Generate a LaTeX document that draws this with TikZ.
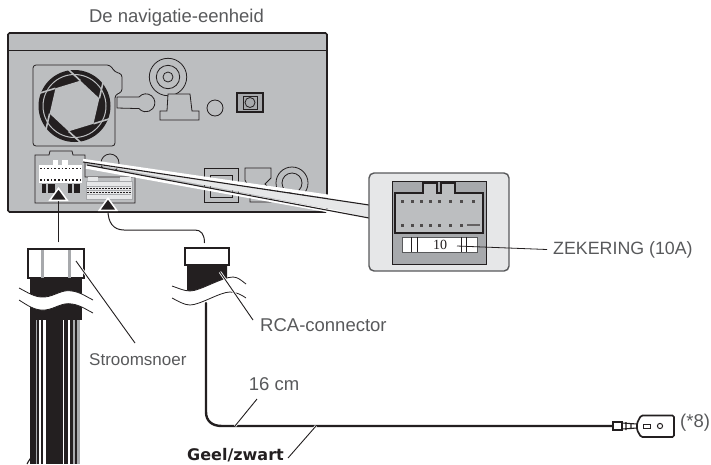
\documentclass[tikz,border=0pt]{standalone}
\usepackage{fontspec}
\setmainfont{Liberation Sans}
\newfontfamily\grasfont{DejaVu Sans}
\usetikzlibrary{positioning,arrows.meta}
\definecolor{boitier}{HTML}{BCBEC0}
\definecolor{clair}{HTML}{E6E7E8}
\definecolor{moyen}{HTML}{A7A9AC}
\definecolor{encre}{HTML}{231F20}
\definecolor{texte}{HTML}{58595B}
\begin{document}
\begin{tikzpicture}[x=1pt,y=-1pt]
  \tikzset{
    etiquette/.style={text=texte,font=\fontsize{18.5}{20}\selectfont,inner sep=0pt},
    trait/.style={draw=encre,line width=0.8pt},
    gros trait/.style={draw=encre,line width=1.6pt},
    repere/.style={draw=encre,line width=0.9pt,preaction={draw=white,line width=2.6pt}},
    fil/.style={draw=encre,line width=2.4pt,line cap=round},
    fleche/.style={draw=encre,line width=1pt,
      -{Triangle[length=14pt,width=20pt,color=white,fill=encre,line width=1.5pt]}},
    prise/.style={draw=encre,fill=white,line width=1.4pt,inner sep=0pt},
  }
  \useasboundingbox (0,0) rectangle (711,464);

  % the unit
  \node[etiquette] (titre) at (176.5,18) {De navigatie-eenheid};
  \node[draw=encre,line width=1.6pt,fill=boitier,rounded corners=1.5pt,inner sep=0pt,
        minimum width=319pt,minimum height=179pt] (unite) at (167.5,122.5) {};
  \draw[gros trait] (8,50.5) -- (327,50.5);

  % fan
  \draw[trait,rounded corners=3pt] (33,65) -- (110,65) -- (115,72) -- (122,74) -- (122,92)
    -- (115,95) -- (115,146) -- (33,146) -- cycle;
  \begin{scope}[shift={(74.5,106)}]
    \fill[encre] (0,0) circle (36);
    \draw[boitier,line width=1pt] (0,0) circle (31.5);
    \fill[boitier] (43:26) -- (103:26) -- (163:26) -- (223:26) -- (283:26) -- (343:26) -- cycle;
    \foreach \a in {43,103,...,343}
      \draw[boitier,line width=1.6pt] (\a:26) -- +(\a-60:17);
  \end{scope}

  % top row
  \draw[trait] (168,77) circle (18.7) circle (11.7) circle (5);
  \draw[trait] (117,97) -- (139,97) arc[start angle=-140,end angle=140,radius=9] -- (117,108) -- cycle;
  \draw[trait,fill=boitier] (167,111) -- (168,94) -- (190,94) -- (192,111) -- (199,111) -- (199,120)
    -- (160,120) -- (160,111) -- cycle;
  \draw[trait] (215,108) circle (8);
  \draw[encre,line width=1.8pt,fill=moyen] (237,93) rectangle (263,112);
  \draw[trait] (250,102.5) circle (5);
  \draw[trait] (243,96) rectangle (257,109);

  % bottom row
  \draw[trait] (110,163) circle (9);
  \draw[trait,fill=boitier] (35,155) -- (49,155) -- (50,151) -- (72,151) -- (73,155) -- (85,155) -- (85,177)
    -- (135,177) -- (135,203) -- (35,203) -- cycle;
  \draw[trait] (204,168) rectangle (238,202);
  \draw[trait] (210,175) rectangle (232,197);
  \draw[trait] (245,168) -- (271,168) -- (271,178) -- (265,184) -- (271,190) -- (271,202) -- (250,202)
    -- (250,190) -- (245,180) -- cycle;
  \draw[trait] (292,183) circle (16) circle (10);

  % connectors on the unit
  \fill[encre] (42,184) rectangle (55,193);
  \fill[encre] (68,184) rectangle (80,193);
  \fill[boitier] (46,184) rectangle (48,193);
  \fill[boitier] (72,184) rectangle (74,193);
  \node[fill=white,inner sep=0pt,minimum width=43pt,minimum height=18pt] (fiche) at (60.5,174) {};
  \fill[white] (53,160) rectangle (58,166);
  \fill[white] (62,160) rectangle (68,166);
  \draw[encre,line width=1.2pt,dash pattern=on 1.6pt off 2pt] (40,168.5) -- (81,168.5);
  \draw[encre,line width=1.2pt,dash pattern=on 1.6pt off 2pt] (40,180) -- (81,180);
  \node[fill=clair,draw=moyen,inner sep=0pt,minimum width=46pt,minimum height=18pt] (fiche rca) at (109,190) {};
  \draw[moyen,line width=0.8pt] (87,186) -- (131,186) (87,190) -- (131,190) (87,194) -- (131,194);
  \draw[encre,line width=0.6pt,dash pattern=on 1.5pt off 1.5pt] (87,188) -- (131,188) (87,192) -- (131,192);
  \fill[clair] (88,177) rectangle (98,181);
  \fill[clair] (120,177) rectangle (131,181);

  % wedge to the close-up
  \fill[clair] (83,162) -- (369,205) -- (369,218) -- (340,211) -- cycle;
  \draw[white,line width=3.4pt] (83,160.5) -- (340,198);
  \draw[white,line width=3.4pt] (86,167) -- (340,212.8);
  \draw[trait,line width=1.1pt] (83,162) -- (369,205);
  \draw[trait,line width=1.1pt] (87,165) -- (369,218);

  % close-up
  \node[draw=texte,line width=1.4pt,fill=clair,rounded corners=5pt,inner sep=0pt,
        minimum width=140pt,minimum height=98pt] (loupe) at (439,222) {};
  \draw[draw=encre,line width=0.7pt,fill=moyen] (392,181) rectangle (486,264);
  \draw[encre,line width=1.5pt,fill=boitier] (395,193) -- (423,193) -- (423,183) -- (437,183) -- (437,193)
    -- (441,193) -- (441,183) -- (455,183) -- (455,193) -- (483,193) -- (483,233) -- (395,233) -- cycle;
  \foreach \x in {402,412,421,430,439,450,461,473}
    \fill[encre!80] (\x-1.5,199.5) rectangle (\x+1.5,202.5);
  \foreach \x in {402,412,421,430,439,450,461}
    \fill[encre!80] (\x-1.5,223.5) rectangle (\x+1.5,226.5);
  \fill[encre!70] (467,223.5) rectangle (480,225.5);
  \node[draw=texte,fill=white,line width=0.6pt,inner sep=0pt,
        minimum width=75pt,minimum height=15pt] (fusible) at (439.5,244.5) {};
  \foreach \x in {411,417,461,466}
    \draw[encre,line width=0.9pt] (\x,237) -- (\x,252);
  \node[inner sep=0pt,text=encre,font=\fontspec{Liberation Serif}\fontsize{14}{16}\selectfont] (dix) at (440,245) {10};
  \node[etiquette,anchor=west,font=\fontsize{17.8}{20}\selectfont] (zekering) at (553,249.5) {ZEKERING (10A)};
  \coordinate (bout fusible) at (457,246);
  \draw[trait] (zekering.west) ++(-6,0) -- (bout fusible);

  % power cable
  \fill[encre] (30,320) rectangle (80,464);
  \foreach \xa/\xb/\c in {35.5/37/moyen,38.5/41/white,43/46/white,63/64.2/white,68/70/white,73/74.5/moyen,77/80/moyen}
    \fill[\c] (\xa,320) rectangle (\xb,464);
  \draw[encre,line width=1.1pt] (27,464) .. controls (29,460) and (31,458) .. (33,454);
  \fill[encre] (30,276) rectangle (82,320);
  \fill[white] (19,288) .. controls (27,292) and (35,298) .. (45,297) .. controls (55,296) and (62,289) .. (72,291)
    .. controls (80,292) and (87,297) .. (93,300) -- (93,313) .. controls (87,310) and (80,305) .. (72,304)
    .. controls (62,302) and (55,309) .. (45,310) .. controls (35,311) and (27,305) .. (19,300) -- cycle;
  \draw[trait] (19,288) .. controls (27,292) and (35,298) .. (45,297) .. controls (55,296) and (62,289) .. (72,291)
    .. controls (80,292) and (87,297) .. (93,300);
  \draw[trait] (19,300) .. controls (27,305) and (35,311) .. (45,310) .. controls (55,309) and (62,302) .. (72,304)
    .. controls (80,305) and (87,310) .. (93,313);
  \node[prise,minimum width=56pt,minimum height=29pt] (stekker) at (56,263.5) {};
  \fill[moyen] (40.5,250) rectangle (43.5,278);
  \fill[moyen] (67.5,250) rectangle (71,278);

  % RCA cable
  \fill[encre] (187,265) -- (227,265) -- (227,284) -- (187,296) -- cycle;
  \fill[white] (172,286) .. controls (178,288) and (184,291) .. (190,291) .. controls (200,291) and (222,277) .. (233,277)
    .. controls (238,277) and (242,281) .. (246,284) -- (246,298) .. controls (242,295) and (236,292) .. (230,292)
    .. controls (220,292) and (200,305) .. (190,305) .. controls (184,305) and (178,301) .. (172,298) -- cycle;
  \draw[trait] (172,286) .. controls (178,288) and (184,291) .. (190,291) .. controls (200,291) and (222,277) .. (233,277)
    .. controls (238,277) and (242,281) .. (246,284);
  \draw[trait] (172,298) .. controls (178,301) and (184,305) .. (190,305) .. controls (200,305) and (220,292) .. (230,292)
    .. controls (236,292) and (242,295) .. (246,298);
  \node[prise,minimum width=44pt,minimum height=17pt] (stekker rca) at (207,256.5) {};

  % lead to the terminal
  \coordinate (manchon) at (613,426);
  \draw[fil] (206,303) -- (206,412) .. controls (206,421) and (212,426) .. (222,426) -- (manchon);
  \draw[trait,line width=1.2pt,fill=white] (613,422) rectangle (622,430);
  \draw[trait,line width=1.1pt] (622,423) -- (637,424) (622,429) -- (637,428) (626,422) -- (626,430) (631,423) -- (631,429);
  \draw[encre,line width=1.7pt,fill=white,rounded corners=1.5pt] (637,423) -- (641,415.5) -- (674,415.5) -- (674,437)
    -- (641,437) -- (637,430) -- cycle;
  \draw[trait,line width=1pt] (643,424) rectangle (650,428);
  \draw[trait,line width=1pt] (660,426) circle (2.6);
  \node[etiquette,anchor=west] (note) at (680,423) {(*8)};

  % arrows
  \coordinate (pointe) at (58.5,187);
  \coordinate (pointe rca) at (108,197);
  \draw[fleche] (stekker.north -| pointe) ++(0,-6) -- (pointe);
  \draw[fleche] (204.5,243) .. controls (204.5,234) and (201,230) .. (195,230) -- (124,230)
    .. controls (113,230) and (108,222) .. (pointe rca);

  % labels
  \node[etiquette,anchor=west,font=\fontsize{17}{20}\selectfont] (stroomsnoer) at (89,360) {Stroomsnoer};
  \coordinate (bout stekker) at (76,261);
  \draw[repere] (135,343) -- (bout stekker);
  \node[etiquette,anchor=west] (rca) at (260,325) {RCA-connector};
  \coordinate (bout rca) at (220,272);
  \draw[repere] (253,320) -- (bout rca);
  \node[etiquette] (lengte) at (274,384) {16 cm};
  \coordinate (bout fil) at (235,426);
  \draw[repere] (257,399) -- (bout fil);
  \node[etiquette,anchor=base east,text=encre,font=\grasfont\fontsize{16}{18}\selectfont\bfseries] (kleur) at (284,460.5) {Geel/zwart};
  \coordinate (bout geel) at (316,426);
  \draw[repere] (288,458) -- (bout geel);
\end{tikzpicture}
\end{document}
